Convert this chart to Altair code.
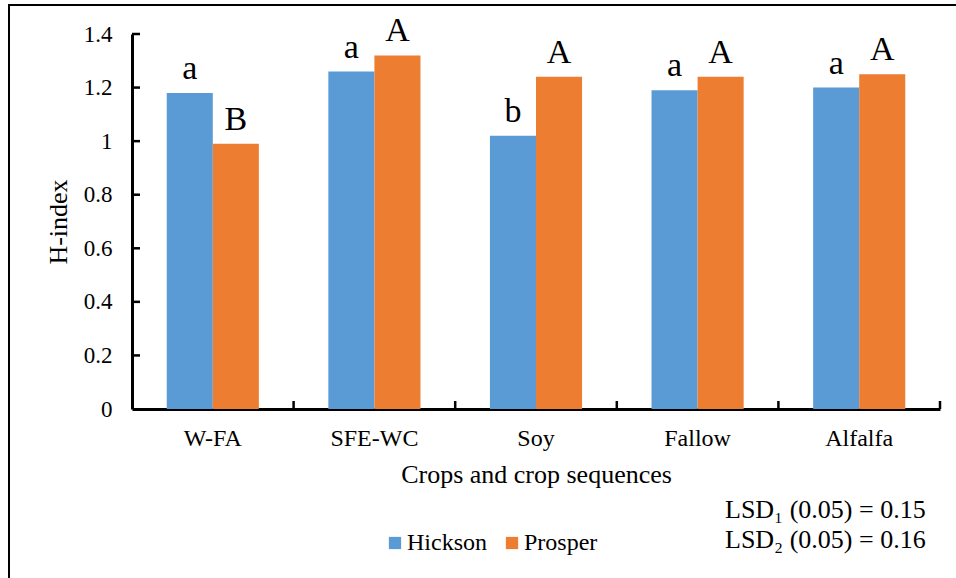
import altair as alt
import pandas as pd

crops = ["W-FA", "SFE-WC", "Soy", "Fallow", "Alfalfa"]
sites = ["Hickson", "Prosper"]
hickson = [1.18, 1.26, 1.02, 1.19, 1.20]
prosper = [0.99, 1.32, 1.24, 1.24, 1.25]
hickson_letters = ["a", "a", "b", "a", "a"]
prosper_letters = ["B", "A", "A", "A", "A"]
y_ticks = [0, 0.2, 0.4, 0.6, 0.8, 1.0, 1.2, 1.4]
lsd_lines = ["LSD\u2081 (0.05) = 0.15", "LSD\u2082 (0.05) = 0.16"]

colors = ["#5B9BD5", "#ED7D31"]
FONT = "'Times New Roman', 'Liberation Serif', 'DejaVu Serif', serif"
W, H = 808, 375

rows = []
for i, c in enumerate(crops):
    rows.append({"crop": c, "site": "Hickson", "value": hickson[i], "letter": hickson_letters[i]})
    rows.append({"crop": c, "site": "Prosper", "value": prosper[i], "letter": prosper_letters[i]})
df = pd.DataFrame(rows)

x_enc = alt.X(
    "crop:N", sort=crops,
    scale=alt.Scale(paddingInner=0.43, paddingOuter=0.215),
    axis=alt.Axis(
        title="Crops and crop sequences", labelAngle=0, ticks=False,
        labelFont=FONT, labelFontSize=24, labelColor="black", labelPadding=17,
        titleFont=FONT, titleFontSize=26, titleFontWeight="normal", titleColor="black",
        titlePadding=11, domainColor="black", domainWidth=3,
    ),
)
y_enc = alt.Y(
    "value:Q",
    scale=alt.Scale(domain=[0, 1.4], nice=False),
    axis=alt.Axis(
        title="H-index", values=y_ticks, ticks=False, grid=False,
        labelFont=FONT, labelFontSize=23, labelColor="black", labelPadding=20,
        labelExpr="datum.value == 0 ? '0' : format(datum.value, '.1~f')",
        titleFont=FONT, titleFontSize=26, titleFontWeight="normal", titleColor="black",
        titlePadding=12, domainColor="black", domainWidth=3,
    ),
)
xoff = alt.XOffset("site:N", sort=sites, scale=alt.Scale(paddingInner=0, paddingOuter=0))

bars = alt.Chart(df).mark_bar().encode(
    x=x_enc, y=y_enc, xOffset=xoff,
    color=alt.Color(
        "site:N", sort=sites,
        scale=alt.Scale(domain=sites, range=colors),
        legend=alt.Legend(
            title=None, orient="none", direction="horizontal",
            legendX=251, legendY=497, symbolType="square", symbolSize=150,
            symbolStrokeWidth=0, labelFont=FONT, labelFontSize=24, labelColor="black",
            columnPadding=13, labelOffset=0,
        ),
    ),
)

letters = alt.Chart(df).mark_text(
    baseline="bottom", dy=-7, font=FONT, fontSize=34, color="black"
).encode(x=alt.X("crop:N", sort=crops), y="value:Q", xOffset=xoff, text="letter:N")

# short inward ticks on the value axis
ytick_rules = alt.Chart(pd.DataFrame({"t": y_ticks[1:]})).mark_rule(
    color="black", strokeWidth=2.5
).encode(y="t:Q", x=alt.value(0), x2=alt.value(8))

main = alt.layer(bars, letters, ytick_rules)

# inward ticks at category boundaries on the category axis
xtick_rules = alt.Chart(pd.DataFrame({"b": [1, 2, 3, 4, 5]})).mark_rule(
    color="black", strokeWidth=2.5
).encode(
    x=alt.X("b:Q", scale=alt.Scale(domain=[0, 5]), axis=None),
    y=alt.value(H), y2=alt.value(H - 8),
)

lsd = alt.Chart(pd.DataFrame({"txt": lsd_lines, "row": [0, 1]})).mark_text(
    align="left", baseline="middle", font=FONT, fontSize=26, color="black"
).encode(
    text="txt:N",
    x=alt.value(593),
    y=alt.Y("row:Q", scale=alt.Scale(domain=[0, 1], range=[476, 506]), axis=None),
)

# outer figure frame (left and top edges)
frame = pd.DataFrame({"k": [0]})
left_edge = alt.Chart(frame).mark_rule(color="black", strokeWidth=2).encode(
    x=alt.value(-123), y=alt.value(-29), y2=alt.value(560)
)
top_edge = alt.Chart(frame).mark_rule(color="black", strokeWidth=2).encode(
    x=alt.value(-124), x2=alt.value(840), y=alt.value(-29)
)

chart = alt.layer(main, xtick_rules, lsd, left_edge, top_edge).resolve_scale(
    x="independent", y="independent"
).properties(
    width=W, height=H,
    autosize=alt.AutoSizeParams(type="none"),
    padding={"left": 132, "top": 34, "right": 16, "bottom": 169},
    background="white",
).configure_view(stroke=None)

chart.save("out.html", embed_options={"renderer": "svg", "actions": False})
